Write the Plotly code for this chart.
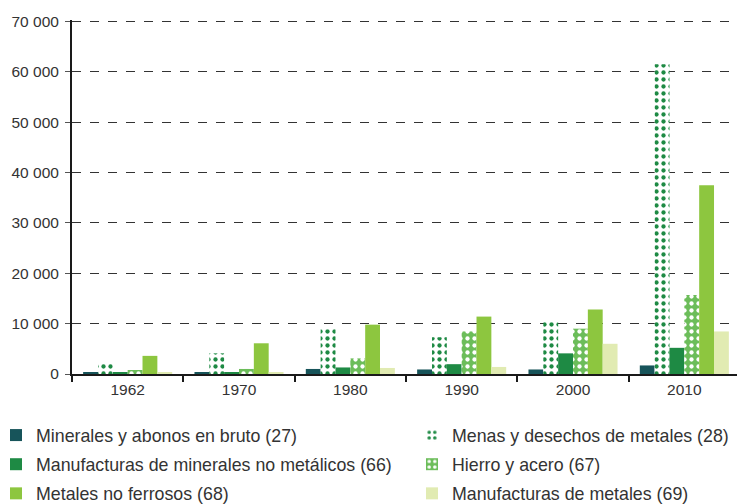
import plotly.graph_objects as go

years = ["1962", "1970", "1980", "1990", "2000", "2010"]
minerales_27 = [300, 300, 1000, 900, 900, 1700]
menas_28 = [2000, 4100, 8900, 7300, 10300, 61500]
manuf_minerales_66 = [400, 350, 1300, 1950, 4100, 5200]
hierro_67 = [800, 1000, 3100, 8450, 9000, 15700]
metales_68 = [3600, 6100, 9800, 11400, 12800, 37500]
manuf_metales_69 = [200, 200, 1200, 1400, 6000, 8450]

names = [
    "Minerales y abonos en bruto (27)",
    "Menas y desechos de metales (28)",
    "Manufacturas de minerales no metálicos (66)",
    "Hierro y acero (67)",
    "Metales no ferrosos (68)",
    "Manufacturas de metales (69)",
]
yticks = [0, 10000, 20000, 30000, 40000, 50000, 60000, 70000]
yticktext = ["0", "10 000", "20 000", "30 000", "40 000", "50 000", "60 000", "70 000"]

series = [minerales_27, menas_28, manuf_minerales_66, hierro_67, metales_68, manuf_metales_69]
colors = ["#17545a", "#ffffff", "#1e8a44", "#6cbd5a", "#8dc63f", "#e1ebb2"]
patterns = [
    None,
    dict(shape=".", fgcolor="#1e8a44", bgcolor="#ffffff", size=7, solidity=0.3, fillmode="replace"),
    None,
    dict(shape=".", fgcolor="#ffffff", bgcolor="#6cbd5a", size=7, solidity=0.3, fillmode="replace"),
    None,
    None,
]
legend_ids = ["legend", "legend2", "legend", "legend2", "legend", "legend2"]

fig = go.Figure()
for s, n, c, p, lg in zip(series, names, colors, patterns, legend_ids):
    marker = dict(color=c, line=dict(width=0))
    if p is not None:
        marker["pattern"] = p
    fig.add_trace(go.Bar(x=years, y=s, name=n, marker=marker, legend=lg, legendgroup=n))

W, H = 745, 504
ML, MR, MT, MB = 64, 13, 12, 138
font_fam = "Liberation Sans, Arial, sans-serif"
leg_common = dict(
    orientation="v", yref="container", xanchor="left", yanchor="top",
    font=dict(size=17.8, color="#333333", family=font_fam),
    traceorder="grouped", tracegroupgap=3, bgcolor="rgba(0,0,0,0)",
)
fig.update_layout(
    width=W, height=H,
    margin=dict(l=ML, r=MR, t=MT, b=MB, autoexpand=False),
    plot_bgcolor="white", paper_bgcolor="white",
    barmode="group", bargap=0.2, bargroupgap=0,
    font=dict(family=font_fam, color="#333333", size=15.5),
    showlegend=True,
    legend=dict(xref="paper", x=(-12 - ML) / (W - ML - MR), y=(H - 409) / H, **leg_common),
    legend2=dict(xref="container", x=404 / W, y=(H - 409) / H, **leg_common),
    xaxis=dict(
        showline=True, linecolor="#1a1a1a", linewidth=2,
        ticks="outside", tickson="boundaries", ticklen=6, tickcolor="#1a1a1a", tickwidth=1.5,
        tickfont=dict(size=15.5, color="#333333", family=font_fam),
        showgrid=False,
    ),
    yaxis=dict(
        range=[0, 70300], tickvals=yticks, ticktext=yticktext,
        showline=True, linecolor="#1a1a1a", linewidth=2,
        ticks="outside", ticklen=5, tickcolor="#555555", ticklabelstandoff=3,
        showgrid=True, gridcolor="#333333", griddash="dash", gridwidth=1,
        tickfont=dict(size=15.5, color="#333333", family=font_fam),
        zeroline=False,
    ),
)

fig.write_html("out.html")
